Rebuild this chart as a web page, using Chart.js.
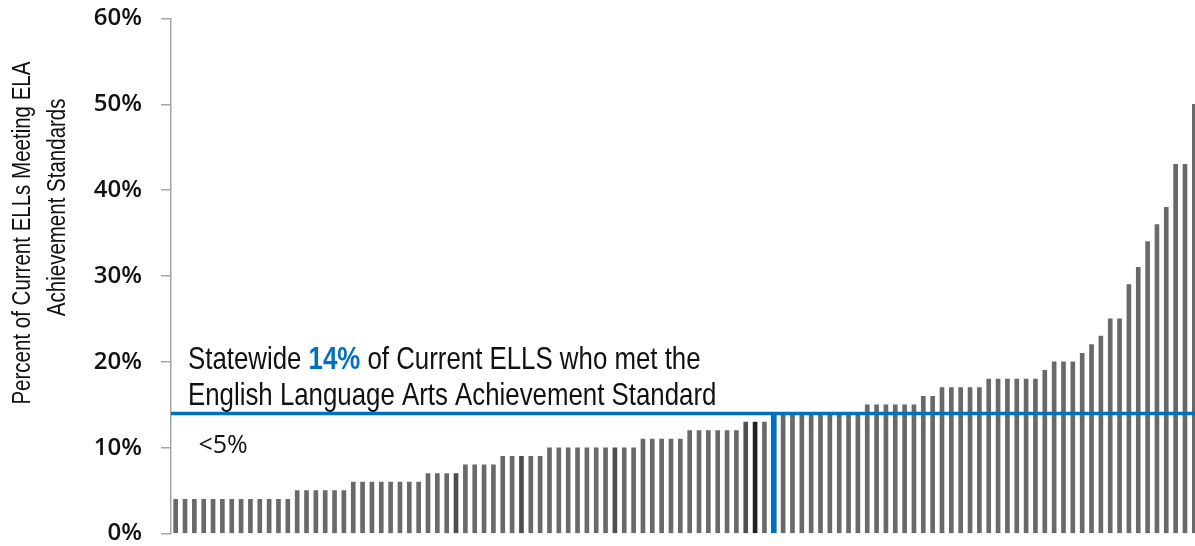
<!DOCTYPE html>
<html>
<head>
<meta charset="utf-8">
<script src="https://cdn.jsdelivr.net/npm/chart.js@4.4.1/dist/chart.umd.min.js"></script>
<style>
  html, body { margin: 0; padding: 0; background: #ffffff; overflow: hidden; }
  #wrap { width: 1200px; height: 582px; position: relative; margin-top: -15px; }
</style>
</head>
<body>
<div id="wrap"><canvas id="c"></canvas></div>
<script>
// ---- data ----
const pctMeeting = [
  4,4,4,4,4,4,4,4,4,4,4,4,4,
  5,5,5,5,5,5,
  6,6,6,6,6,6,6,6,
  7,7,7,7,
  8,8,8,8,
  9,9,9,9,9,
  10,10,10,10,10,10,10,10,10,10,
  11,11,11,11,11,
  12,12,12,12,12,12,
  13,13,13,
  14,
  14,14,14,14,14,14,14,14,14,
  15,15,15,15,15,15,
  16,16,
  17,17,17,17,17,
  18,18,18,18,18,18,
  19,
  20,20,20,
  21,22,23,
  25,25,
  29,31,34,36,38,43,43,50
];
const districts = pctMeeting.map((v, i) => 'District ' + (i + 1));
const statewideValue = 14;
const statewideIndex = 64;
const yTickValues = [0, 10, 20, 30, 40, 50, 60];
const annotationLine1 = ['Statewide ', '14%', ' of Current ELLS who met the'];
const annotationLine2 = 'English Language Arts Achievement Standard';
const lowLabel = '<5%';
const yTitle = ['Percent of Current ELLs Meeting ELA', 'Achievement Standards'];

// ---- styles ----
const GRAY = '#696969';
const BLUE = '#0070C0';
const TEXT = '#111111';
const shadeByIndex = { 30: '#4d4d4d', 37: '#4d4d4d', 47: '#4d4d4d', 61: '#4f4f4f', 62: '#222222' };
const SANS = '"Liberation Sans", Arial, sans-serif';
const NARROW_X = 0.82; // horizontal compression to emulate a narrow face

const grayData = pctMeeting.map((v, i) => i === statewideIndex ? null : v);
const blueData = pctMeeting.map((v, i) => i === statewideIndex ? v : null);
const grayColors = pctMeeting.map((v, i) => shadeByIndex[i] || GRAY);

function narrowText(ctx, parts, x, y, align) {
  ctx.save();
  ctx.translate(x, y);
  ctx.scale(NARROW_X, 1);
  ctx.textBaseline = 'alphabetic';
  ctx.textAlign = 'left';
  let total = 0;
  parts.forEach(p => { ctx.font = p.font; total += ctx.measureText(p.text).width; });
  let cx = align === 'center' ? -total / 2 : 0;
  parts.forEach(p => {
    ctx.font = p.font; ctx.fillStyle = p.color;
    ctx.fillText(p.text, cx, 0);
    cx += ctx.measureText(p.text).width;
  });
  ctx.restore();
}

const overlay = {
  id: 'overlay',
  afterDatasetsDraw(chart) {
    const { ctx, chartArea, scales: { x, y } } = chart;
    const yy = y.getPixelForValue(statewideValue);
    ctx.save();
    ctx.strokeStyle = BLUE;
    ctx.lineWidth = 3.5;
    ctx.beginPath();
    ctx.moveTo(chartArea.left, yy);
    ctx.lineTo(chart.width, yy);
    ctx.stroke();
    ctx.restore();

    // annotation text
    const f = '31.5px ' + SANS, fb = 'bold 31.5px ' + SANS;
    const tx = chartArea.left + 17;
    narrowText(ctx, [
      { text: annotationLine1[0], font: f, color: TEXT },
      { text: annotationLine1[1], font: fb, color: BLUE },
      { text: annotationLine1[2], font: f, color: TEXT }
    ], tx, yy - 44, 'left');
    narrowText(ctx, [{ text: annotationLine2, font: f, color: TEXT }], tx, yy - 8, 'left');

    // <5% label above the lowest group
    const lx = (x.getPixelForValue(5) + x.getPixelForValue(6)) / 2 - 4;
    ctx.save();
    ctx.font = '25px "Open Sans", sans-serif';
    ctx.textAlign = 'center';
    ctx.textBaseline = 'alphabetic';
    ctx.fillStyle = TEXT;
    ctx.fillText(lowLabel, lx, y.getPixelForValue(4) - 46);
    ctx.restore();

    // y-axis title (two rotated narrow lines)
    const tf = '25px ' + SANS;
    const centers = [y.getPixelForValue(35.0), y.getPixelForValue(38.0)];
    const xs = [30, 65];
    yTitle.forEach((line, k) => {
      ctx.save();
      ctx.translate(xs[k], centers[k]);
      ctx.rotate(-Math.PI / 2);
      narrowText(ctx, [{ text: line, font: tf, color: TEXT }], 0, 0, 'center');
      ctx.restore();
    });
  }
};

new Chart(document.getElementById('c'), {
  type: 'bar',
  data: {
    labels: districts,
    datasets: [
      { data: grayData, backgroundColor: grayColors, barThickness: 4, grouped: false, order: 2 },
      { data: blueData, backgroundColor: BLUE, barThickness: 5, grouped: false, order: 1 }
    ]
  },
  options: {
    responsive: true,
    maintainAspectRatio: false,
    animation: false,
    layout: { padding: { top: 3, right: 1, bottom: 0, left: 0 } },
    plugins: { legend: { display: false }, tooltip: { enabled: false } },
    scales: {
      x: { display: false, offset: true },
      y: {
        min: 0, max: 60,
        afterBuildTicks(scale) { scale.ticks = yTickValues.map(v => ({ value: v })); },
        afterFit(scale) { scale.width = 171; },
        ticks: {
          callback: v => v + '%',
          font: { family: '"Open Sans", sans-serif', size: 24, weight: '600' },
          color: TEXT,
          padding: 19
        },
        grid: { drawOnChartArea: false, tickLength: 10, color: '#a6a6a6', lineWidth: 1.5 },
        border: { color: '#a6a6a6', width: 1.5 },
        title: { display: false }
      }
    }
  },
  plugins: [overlay]
});
</script>
</body>
</html>
